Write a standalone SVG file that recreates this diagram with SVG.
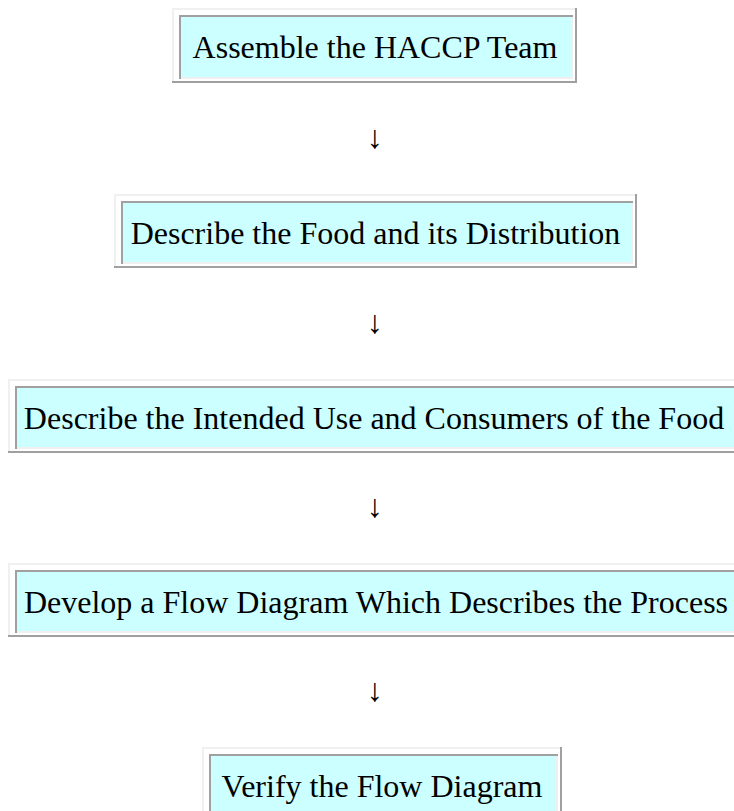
<svg xmlns="http://www.w3.org/2000/svg" width="734" height="811" viewBox="0 0 734 811">
<style>
.lt{fill:#f0f0f0}
.dk{fill:#a0a0a0}
.cell{fill:#ccffff}
.t{font-family:"Liberation Serif","Times New Roman",serif;font-size:32px;fill:#000;text-anchor:middle}
</style>
<rect width="734" height="811" fill="#ffffff"/>
<g id="node1">
<rect class="lt" x="172" y="8" width="405" height="2"/><rect class="lt" x="172" y="8" width="2" height="75"/>
<rect class="dk" x="172" y="81" width="405" height="2"/><rect class="dk" x="575" y="8" width="2" height="75"/>
<rect class="cell" x="179" y="15" width="394" height="64"/>
<rect class="dk" x="179" y="15" width="394" height="2"/><rect class="dk" x="179" y="15" width="2" height="64"/>
<rect class="lt" x="181" y="77" width="392" height="2"/><rect class="lt" x="571" y="17" width="2" height="62"/>
<text class="t" x="375" y="58">Assemble the HACCP Team</text>
</g>
<g id="node2">
<rect class="lt" x="114" y="194" width="523" height="2"/><rect class="lt" x="114" y="194" width="2" height="74"/>
<rect class="dk" x="114" y="266" width="523" height="2"/><rect class="dk" x="635" y="194" width="2" height="74"/>
<rect class="cell" x="121" y="201" width="512" height="63"/>
<rect class="dk" x="121" y="201" width="512" height="2"/><rect class="dk" x="121" y="201" width="2" height="63"/>
<rect class="lt" x="123" y="262" width="510" height="2"/><rect class="lt" x="631" y="203" width="2" height="61"/>
<text class="t" x="375.5" y="244">Describe the Food and its Distribution</text>
</g>
<g id="node3">
<rect class="lt" x="8" y="379" width="740" height="2"/><rect class="lt" x="8" y="379" width="2" height="74"/>
<rect class="dk" x="8" y="451" width="740" height="2"/>
<rect class="cell" x="15" y="386" width="730" height="63"/>
<rect class="dk" x="15" y="386" width="730" height="2"/><rect class="dk" x="15" y="386" width="2" height="63"/>
<rect class="lt" x="17" y="447" width="728" height="2"/>
<text class="t" x="374" y="429">Describe the Intended Use and Consumers of the Food</text>
</g>
<g id="node4">
<rect class="lt" x="8" y="563" width="745" height="2"/><rect class="lt" x="8" y="563" width="2" height="74"/>
<rect class="dk" x="8" y="635" width="745" height="2"/>
<rect class="cell" x="15" y="570" width="735" height="63"/>
<rect class="dk" x="15" y="570" width="735" height="2"/><rect class="dk" x="15" y="570" width="2" height="63"/>
<rect class="lt" x="17" y="631" width="733" height="2"/>
<text class="t" x="376" y="613">Develop a Flow Diagram Which Describes the Process</text>
</g>
<g id="node5">
<rect class="lt" x="202" y="747" width="360" height="2"/><rect class="lt" x="202" y="747" width="2" height="74"/>
<rect class="dk" x="202" y="819" width="360" height="2"/><rect class="dk" x="560" y="747" width="2" height="74"/>
<rect class="cell" x="209" y="754" width="349" height="63"/>
<rect class="dk" x="209" y="754" width="349" height="2"/><rect class="dk" x="209" y="754" width="2" height="63"/>
<rect class="lt" x="211" y="815" width="347" height="2"/><rect class="lt" x="556" y="756" width="2" height="61"/>
<text class="t" x="382" y="797">Verify the Flow Diagram</text>
</g>
<g id="connectors">
<text class="t" x="375" y="148">↓</text>
<text class="t" x="375" y="333">↓</text>
<text class="t" x="375" y="517">↓</text>
<text class="t" x="375" y="701">↓</text>
</g>
</svg>
